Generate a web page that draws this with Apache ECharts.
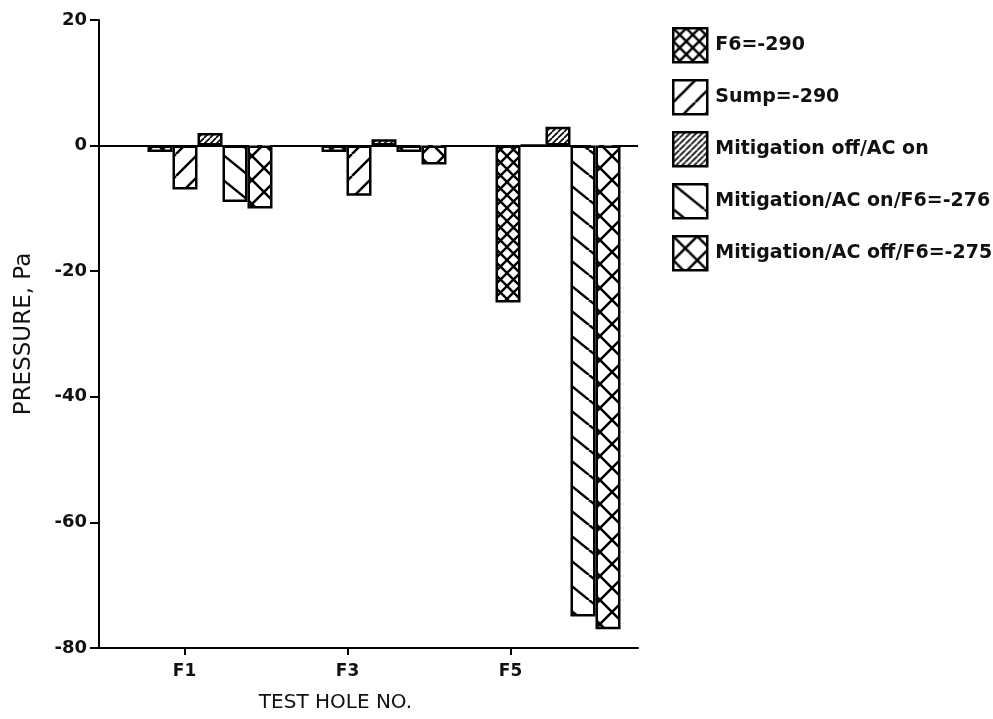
<!DOCTYPE html>
<html>
<head>
<meta charset="utf-8">
<script src="https://cdn.jsdelivr.net/npm/echarts@6/dist/echarts.min.js"></script>
<style>
html,body{margin:0;padding:0;background:#fff;}
#chart{width:993px;height:719px;}
</style>
</head>
<body>
<div id="chart"></div>
<script>
// ---- data ----
const categories = ['F1', 'F3', 'F5'];
const seriesNames = ['F6=-290', 'Sump=-290', 'Mitigation off/AC on', 'Mitigation/AC on/F6=-276', 'Mitigation/AC off/F6=-275'];
const f6Values = [-1, -1, -25];
const sumpValues = [-7, -8, 0];
const mitOffAcOnValues = [2, 1, 3];
const mitAcOnValues = [-9, -1, -75];
const mitAcOffValues = [-10, -3, -77];
const yTicks = { min: -80, max: 20, interval: 20 };

// ---- hatch patterns ----
function makePattern(w, h, kinds, lw) {
  const c = document.createElement('canvas');
  c.width = w; c.height = h;
  const ctx = c.getContext('2d');
  ctx.fillStyle = '#fff';
  ctx.fillRect(0, 0, w, h);
  ctx.strokeStyle = '#000';
  ctx.lineWidth = lw;
  kinds.forEach(function (k) {
    for (let i = -1; i <= 1; i++) {
      ctx.beginPath();
      if (k === '/') { ctx.moveTo(i * w, h); ctx.lineTo(i * w + w, 0); }
      else { ctx.moveTo(i * w, 0); ctx.lineTo(i * w + w, h); }
      ctx.stroke();
    }
  });
  return { image: c, repeat: 'repeat' };
}
const patterns = [
  makePattern(13, 13, ['/', '\\'], 2.4),
  makePattern(22, 22, ['/'], 2.5),
  makePattern(6, 6, ['/'], 1.6),
  makePattern(31, 25, ['\\'], 2.5),
  makePattern(24, 24, ['/', '\\'], 2.5)
];
const valueSets = [f6Values, sumpValues, mitOffAcOnValues, mitAcOnValues, mitAcOffValues];

const barSeries = seriesNames.map(function (name, i) {
  return {
    name: name,
    type: 'bar',
    xAxisIndex: 2,
    yAxisIndex: 2,
    barWidth: 25,
    barGap: '0%',
    data: valueSets[i],
    itemStyle: { color: patterns[i], borderColor: '#000', borderWidth: 2.5 },
    emphasis: { disabled: true },
    z: 3
  };
});

const option = {
  backgroundColor: '#fff',
  animation: false,
  grid: [
    { left: 99, top: 20, width: 539, height: 628 },
    { left: 103, top: 20, width: 489, height: 628 },
    { left: 123, top: 20, width: 522, height: 628 }
  ],
  legend: {
    data: seriesNames,
    orient: 'vertical',
    left: 667,
    top: 22,
    itemWidth: 34,
    itemHeight: 34,
    itemGap: 15.5,
    icon: 'rect',
    selectedMode: false,
    itemStyle: { borderColor: '#000', borderWidth: 2.5 },
    textStyle: { fontFamily: 'DejaVu Sans', fontWeight: 'bold', fontSize: 19, color: '#111', padding: [0, 0, 0, 3] }
  },
  xAxis: [
    {
      gridIndex: 0, type: 'category', data: categories,
      axisLine: { show: true, onZero: false, lineStyle: { color: '#000', width: 2 } },
      axisTick: { show: false }, axisLabel: { show: false }, splitLine: { show: false }
    },
    {
      gridIndex: 1, type: 'category', data: categories,
      axisLine: { show: true, onZero: false, lineStyle: { color: '#000', width: 2 } },
      axisTick: { show: true, alignWithLabel: true, length: 7, lineStyle: { color: '#000', width: 2 } },
      axisLabel: { margin: 15, fontFamily: 'DejaVu Sans', fontWeight: 'bold', fontSize: 17, color: '#111' },
      splitLine: { show: false },
      name: 'TEST HOLE NO.',
      nameLocation: 'middle',
      nameGap: 45,
      nameTextStyle: { fontFamily: 'DejaVu Sans', fontSize: 20, color: '#111', padding: [0, 24, 0, 0] }
    },
    { gridIndex: 2, type: 'category', data: categories, show: false }
  ],
  yAxis: [
    {
      gridIndex: 0, type: 'value', min: yTicks.min, max: yTicks.max, interval: yTicks.interval,
      axisLine: { show: true, lineStyle: { color: '#000', width: 2 } },
      axisTick: { show: true, length: 9, lineStyle: { color: '#000', width: 2 } },
      axisLabel: { margin: 12, fontFamily: 'DejaVu Sans', fontWeight: 'bold', fontSize: 18, color: '#111' },
      splitLine: { show: false },
      name: 'PRESSURE, Pa',
      nameLocation: 'middle',
      nameGap: 63,
      nameRotate: 90,
      nameTextStyle: { fontFamily: 'DejaVu Sans', fontSize: 23, color: '#111' }
    },
    { gridIndex: 1, type: 'value', min: yTicks.min, max: yTicks.max, interval: yTicks.interval, show: false },
    { gridIndex: 2, type: 'value', min: yTicks.min, max: yTicks.max, interval: yTicks.interval, show: false }
  ],
  series: [
    {
      name: 'zero',
      type: 'line',
      xAxisIndex: 0,
      yAxisIndex: 0,
      data: [],
      silent: true,
      z: 2,
      markLine: {
        silent: true,
        symbol: 'none',
        label: { show: false },
        lineStyle: { color: '#000', width: 2, type: [150, 8, 5, 8] },
        emphasis: { disabled: true },
        data: [{ yAxis: 0 }]
      }
    }
  ].concat(barSeries)
};

const chart = echarts.init(document.getElementById('chart'), null, { renderer: 'canvas' });
chart.setOption(option);
</script>
</body>
</html>
